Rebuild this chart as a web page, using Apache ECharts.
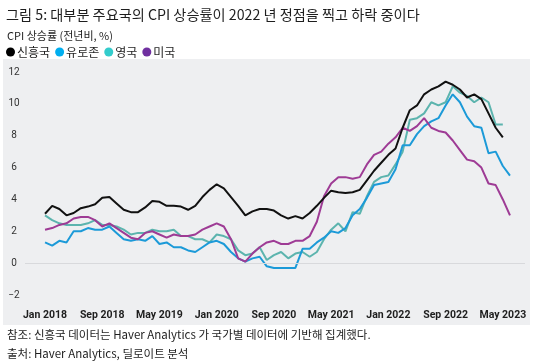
<!DOCTYPE html>
<html>
<head>
<meta charset="utf-8">
<script src="https://cdn.jsdelivr.net/npm/echarts@6/dist/echarts.min.js"></script>
<style>
html,body{margin:0;padding:0;background:#fff;}
#chart{width:533px;height:362px;}
</style>
</head>
<body>
<div id="chart"></div>
<script>
// Monthly CPI YoY (%) starting Jan 2018 (index 0)
var emerging = [3.1,3.6,3.4,3.0,3.15,3.45,3.55,3.7,4.1,4.15,3.75,3.35,
  3.2,3.2,3.5,3.9,3.85,3.6,3.6,3.55,3.35,3.6,4.15,4.6,
  4.95,4.7,4.15,3.6,3.0,3.25,3.4,3.4,3.3,3.0,2.8,2.95,
  2.8,3.15,3.6,4.1,4.55,4.45,4.4,4.45,4.6,5.2,5.8,6.3,
  6.8,7.2,8.5,9.6,9.9,10.6,10.9,11.1,11.4,11.2,10.9,10.4,
  10.6,10.3,9.4,8.5,7.9];
var eurozone = [1.3,1.1,1.4,1.3,2.0,2.0,2.2,2.1,2.1,2.3,1.9,1.5,
  1.4,1.5,1.4,1.7,1.2,1.3,1.0,1.0,0.8,0.7,1.0,1.3,
  1.4,1.2,0.7,0.3,0.1,0.3,0.4,-0.2,-0.3,-0.3,-0.3,-0.3,
  0.9,0.9,1.3,1.6,2.0,1.9,2.2,3.0,3.4,4.1,4.9,5.0,
  5.1,5.9,7.4,7.4,8.1,8.6,8.9,9.1,9.9,10.6,10.1,9.2,
  8.6,8.5,6.9,7.0,6.1,5.5];
var uk = [3.0,2.7,2.5,2.4,2.4,2.4,2.5,2.7,2.4,2.4,2.3,2.1,
  1.8,1.9,1.9,2.1,2.0,2.0,2.1,1.7,1.7,1.5,1.5,1.3,
  1.8,1.7,1.5,0.8,0.5,0.6,1.0,0.2,0.5,0.7,0.3,0.6,
  0.7,0.4,0.7,1.5,2.1,2.5,2.0,3.2,3.1,4.2,5.1,5.4,
  5.5,6.2,7.0,9.0,9.1,9.4,10.1,9.9,10.1,11.1,10.7,10.5,
  10.1,10.4,10.1,8.7,8.7];
var us = [2.1,2.2,2.4,2.5,2.8,2.9,2.9,2.7,2.3,2.5,2.2,1.9,
  1.6,1.5,1.9,2.0,1.8,1.6,1.8,1.7,1.7,1.8,2.1,2.3,
  2.5,2.3,1.5,0.3,0.1,0.6,1.0,1.3,1.4,1.2,1.2,1.4,
  1.4,1.7,2.6,4.2,5.0,5.4,5.4,5.3,5.4,6.2,6.8,7.0,
  7.5,7.9,8.5,8.3,8.6,9.1,8.5,8.3,8.2,7.7,7.1,6.5,
  6.4,6.0,5.0,4.9,4.0,3.0];
var tickMonths = [0,8,16,24,32,40,48,56,64];
var tickLabels = ['Jan 2018','Sep 2018','May 2019','Jan 2020','Sep 2020','May 2021','Jan 2022','Sep 2022','May 2023'];
var seriesNames = ['신흥국','유로존','영국','미국'];

function pairs(arr){ return arr.map(function(v,i){ return [i,v]; }); }

var lineColors = {'신흥국':'#111111','유로존':'#1c9ad8','영국':'#5cb4ae','미국':'#9e3b95'};
var legendColors = {'신흥국':'#000000','유로존':'#00aeef','영국':'#33cccc','미국':'#7030a0'};
var cjk = "'Noto Sans CJK KR','Noto Sans',sans-serif";
var latin = "'Roboto',sans-serif";
var txt = '#1e1e1e';

function mk(name, arr, z){
  return {
    name: name, type: 'line', data: pairs(arr), symbol: 'none', z: z,
    lineStyle: {width: 2, color: lineColors[name]},
    itemStyle: {color: lineColors[name]}
  };
}

var chart = echarts.init(document.getElementById('chart'), null, {renderer:'canvas'});
var usSeries = mk('미국', us, 3);
usSeries.markLine = {
  silent: true, symbol: 'none', label: {show:false},
  lineStyle: {color:'#d8d9dc', width:1, type:'solid'},
  data: [{yAxis: 0}]
};
chart.setOption({
  animation: false,
  graphic: [{
    type: 'rect', z: -10, silent: true,
    shape: {x: 3, y: 59, width: 527, height: 266},
    style: {fill: '#eeeff1'}
  }],
  title: [
    {text: '그림 5: 대부분 주요국의 CPI 상승률이 2022 년 정점을 찍고 하락 중이다', left: 1, top: 3,
     textStyle: {fontFamily: cjk, fontSize: 14.2, fontWeight: 'normal', color: txt}},
    {text: 'CPI 상승률 (전년비, %)', left: 2, top: 25,
     textStyle: {fontFamily: cjk, fontSize: 11, fontWeight: 'normal', color: txt}},
    {text: '참조: 신흥국 데이터는 Haver Analytics 가 국가별 데이터에 기반해 집계했다.', left: 2, top: 324,
     textStyle: {fontFamily: cjk, fontSize: 11.5, fontWeight: 'normal', color: txt}},
    {text: '출처: Haver Analytics, 딜로이트 분석', left: 2, top: 343,
     textStyle: {fontFamily: cjk, fontSize: 11.5, fontWeight: 'normal', color: txt}}
  ],
  legend: {
    left: 1, top: 41, icon: 'circle', itemWidth: 9, itemHeight: 9, itemGap: 5,
    textStyle: {fontFamily: cjk, fontSize: 12, color: txt, padding: [0,0,0,-3]},
    data: seriesNames.map(function(n){ return {name: n, itemStyle: {color: legendColors[n]}}; })
  },
  grid: {left: 25, right: 8, top: 72, bottom: 67},
  xAxis: {
    type: 'value', min: -2.8, max: 67.1,
    axisLine: {show:false}, axisTick: {show:false}, splitLine: {show:false},
    axisLabel: {
      customValues: tickMonths, margin: 15,
      fontFamily: latin, fontWeight: 'bold', fontSize: 10.5, color: txt,
      formatter: function(v){ var k = tickMonths.indexOf(Math.round(v)); return k >= 0 ? tickLabels[k] : ''; }
    }
  },
  yAxis: {
    type: 'value', min: -2, max: 12, interval: 2,
    axisLine: {show:false}, axisTick: {show:false}, splitLine: {show:false},
    axisLabel: {
      margin: 11, align: 'center', fontFamily: latin, fontSize: 10, color: '#333',
      formatter: function(v){ return v < 0 ? '−' + Math.abs(v) : String(v); }
    }
  },
  series: [
    mk('영국', uk, 2),
    mk('유로존', eurozone, 2),
    usSeries,
    mk('신흥국', emerging, 4)
  ]
});
</script>
</body>
</html>
